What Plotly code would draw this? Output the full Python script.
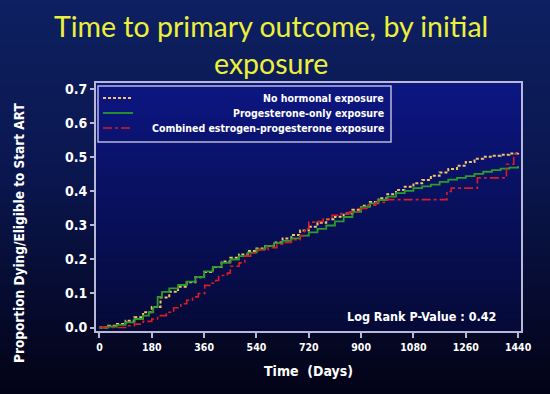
import plotly.graph_objects as go

# ---------------- data ----------------
days_none = [0, 30, 60, 90, 120, 150, 180, 210, 240, 270, 300, 330, 360, 390, 420, 450, 480, 510, 540,
             570, 600, 630, 660, 690, 720, 750, 780, 810, 840, 870, 900, 930, 960, 990, 1020, 1050,
             1080, 1110, 1140, 1170, 1200, 1230, 1260, 1290, 1320, 1350, 1380, 1410, 1440]
prop_none = [0.0, 0.005, 0.01, 0.02, 0.03, 0.045, 0.06, 0.088, 0.105, 0.12, 0.133, 0.148, 0.163, 0.178,
             0.194, 0.205, 0.215, 0.225, 0.232, 0.24, 0.25, 0.262, 0.272, 0.285, 0.296, 0.308, 0.318,
             0.326, 0.335, 0.346, 0.358, 0.369, 0.38, 0.392, 0.404, 0.414, 0.424, 0.434, 0.446, 0.456,
             0.466, 0.476, 0.487, 0.496, 0.502, 0.505, 0.508, 0.512, 0.518]

days_prog = [0, 30, 60, 90, 120, 150, 170, 185, 200, 215, 240, 270, 300, 330, 360, 390, 420, 450, 480,
             510, 540, 570, 600, 630, 660, 690, 720, 750, 780, 810, 840, 870, 900, 930, 960, 990, 1020,
             1050, 1080, 1110, 1140, 1170, 1200, 1230, 1260, 1290, 1320, 1350, 1380, 1410, 1440]
prop_prog = [0.0, 0.003, 0.008, 0.015, 0.025, 0.035, 0.045, 0.06, 0.09, 0.105, 0.115, 0.125, 0.135,
             0.148, 0.165, 0.178, 0.19, 0.2, 0.21, 0.22, 0.23, 0.24, 0.248, 0.255, 0.262, 0.27, 0.28,
             0.29, 0.3, 0.312, 0.325, 0.34, 0.355, 0.365, 0.375, 0.385, 0.395, 0.402, 0.41, 0.415, 0.42,
             0.428, 0.435, 0.44, 0.445, 0.452, 0.458, 0.463, 0.467, 0.47, 0.475]

days_comb = [0, 60, 90, 120, 150, 180, 200, 230, 255, 280, 300, 320, 340, 362, 380, 400, 410, 440, 450,
             480, 500, 520, 545, 580, 610, 640, 660, 690, 705, 720, 740, 770, 800, 830, 860, 890, 920,
             950, 980, 1195, 1210, 1300, 1400, 1425, 1440]
prop_comb = [0.0, 0.0, 0.005, 0.01, 0.018, 0.025, 0.035, 0.045, 0.058, 0.07, 0.08, 0.09, 0.1, 0.124,
             0.13, 0.138, 0.153, 0.16, 0.18, 0.19, 0.21, 0.22, 0.228, 0.235, 0.245, 0.25, 0.258, 0.27,
             0.29, 0.31, 0.312, 0.32, 0.33, 0.335, 0.34, 0.35, 0.36, 0.368, 0.376, 0.4, 0.41, 0.44, 0.48,
             0.51, 0.51]

series_names = ["No hormonal exposure", "Progesterone-only exposure",
                "Combined estrogen-progesterone exposure"]
x_ticks = [0, 180, 360, 540, 720, 900, 1080, 1260, 1440]
y_ticks = [0.0, 0.1, 0.2, 0.3, 0.4, 0.5, 0.6, 0.7]
y_tick_labels = ["0.0", "0.1", "0.2", "0.3", "0.4", "0.5", "0.6", "0.7"]

# ---------------- styling ----------------
W, H = 550, 394
L, R, T, B = 96, 29, 83, 63
PW, PH = W - L - R, H - T - B

colors = ["#f2c46a", "#2e9a2a", "#d81e24"]
dashes = ["3px,2px", "solid", "9px,3px,3px,3px"]
widths = [2, 1.8, 1.6]
FRAME = "#b8b8d8"
FONT = "DejaVu Sans Condensed, Liberation Sans Narrow, Liberation Sans, Arial, sans-serif"


def px(x):
    return (x - L) / PW


def py(y):
    return (H - B - y) / PH


fig = go.Figure()
for d, p, c, dsh, w, n in zip([days_none, days_prog, days_comb],
                              [prop_none, prop_prog, prop_comb],
                              colors, dashes, widths, series_names):
    fig.add_trace(go.Scatter(x=d, y=p, mode="lines", name=n, line_shape="hv",
                             line=dict(color=c, dash=dsh, width=w), showlegend=False,
                             hoverinfo="skip"))

shapes = []


def lerp(c1, c2, t):
    return "rgb(%d,%d,%d)" % tuple(round(a + (b - a) * t) for a, b in zip(c1, c2))


# page background gradient
stops = [(0, (14, 32, 98)), (0.45, (10, 22, 78)), (1.0, (3, 3, 22))]
N = 60
for i in range(N):
    t = (i + 0.5) / N
    for j in range(len(stops) - 1):
        if stops[j][0] <= t <= stops[j + 1][0]:
            tt = (t - stops[j][0]) / (stops[j + 1][0] - stops[j][0])
            col = lerp(stops[j][1], stops[j + 1][1], tt)
            break
    y0 = H * i / N
    y1 = H * (i + 1) / N + 1
    shapes.append(dict(type="rect", xref="paper", yref="paper", x0=px(0), x1=px(W),
                       y0=py(y1), y1=py(y0), fillcolor=col, line=dict(width=0), layer="below"))

# plot area gradient
N2 = 40
for i in range(N2):
    t = (i + 0.5) / N2
    col = lerp((12, 22, 130), (5, 10, 56), t)
    shapes.append(dict(type="rect", xref="paper", yref="paper", x0=0, x1=1,
                       y0=1 - (i + 1) / N2 - 0.002, y1=1 - i / N2, fillcolor=col,
                       line=dict(width=0), layer="below"))

# legend box
shapes.append(dict(type="rect", xref="paper", yref="paper", x0=px(98), x1=px(391),
                   y0=py(142), y1=py(86), line=dict(color=FRAME, width=1.5),
                   fillcolor="rgba(0,0,0,0)", layer="above"))
leg_y = [98, 113, 128]
annotations = []
for yy, c, dsh, w, n in zip(leg_y, colors, dashes, widths, series_names):
    shapes.append(dict(type="line", xref="paper", yref="paper", x0=px(103), x1=px(133),
                       y0=py(yy), y1=py(yy), line=dict(color=c, dash=dsh, width=w)))
    annotations.append(dict(text=n, xref="paper", yref="paper", x=px(386), y=py(yy),
                            xanchor="right", yanchor="middle", showarrow=False,
                            font=dict(family=FONT, size=10.5, color="white", weight="bold")))

annotations += [
    dict(text="Time to primary outcome, by initial<br>exposure", xref="paper", yref="paper",
         x=px(271), y=py(44), xanchor="center", yanchor="middle", showarrow=False,
         font=dict(family="Lato, Open Sans, sans-serif", size=28.5, color="#ecf03a")),
    dict(text="Log Rank P-Value : 0.42", xref="paper", yref="paper", x=px(498), y=py(316),
         xanchor="right", yanchor="middle", showarrow=False,
         font=dict(family=FONT, size=12.5, color="white", weight="bold")),
    dict(text="Proportion Dying/Eligible to Start ART", xref="paper", yref="paper",
         x=px(19), y=py(233), xanchor="center", yanchor="middle", textangle=-90,
         showarrow=False, font=dict(family=FONT, size=13.5, color="white", weight="bold")),
    dict(text="Time  (Days)", xref="paper", yref="paper", x=px(308), y=py(371),
         xanchor="center", yanchor="middle", showarrow=False,
         font=dict(family=FONT, size=14, color="white", weight="bold")),
]

fig.update_layout(
    width=W, height=H,
    margin=dict(l=L, r=R, t=T, b=B, autoexpand=False),
    paper_bgcolor="#0a1450", plot_bgcolor="rgba(0,0,0,0)",
    shapes=shapes, annotations=annotations,
    showlegend=False,
)
fig.update_xaxes(range=[-12, 1450], tickvals=x_ticks, ticktext=[str(v) for v in x_ticks],
                 showgrid=False, zeroline=False, showline=True, mirror=True,
                 linecolor=FRAME, linewidth=2, ticks="outside", ticklen=5, tickwidth=1.5,
                 tickcolor=FRAME,
                 tickfont=dict(family=FONT, size=10.5, color="white", weight="bold"))
fig.update_yaxes(range=[-0.0103, 0.719], tickvals=y_ticks, ticktext=y_tick_labels,
                 showgrid=False, zeroline=False, showline=True, mirror=True,
                 linecolor=FRAME, linewidth=2, ticks="outside", ticklen=4, tickwidth=1.5,
                 tickcolor=FRAME,
                 tickfont=dict(family=FONT, size=14, color="white", weight="bold"))

fig.write_html("out.html", config={"displayModeBar": False},
               post_script="document.body.style.margin='0';document.body.style.overflow='hidden';")
